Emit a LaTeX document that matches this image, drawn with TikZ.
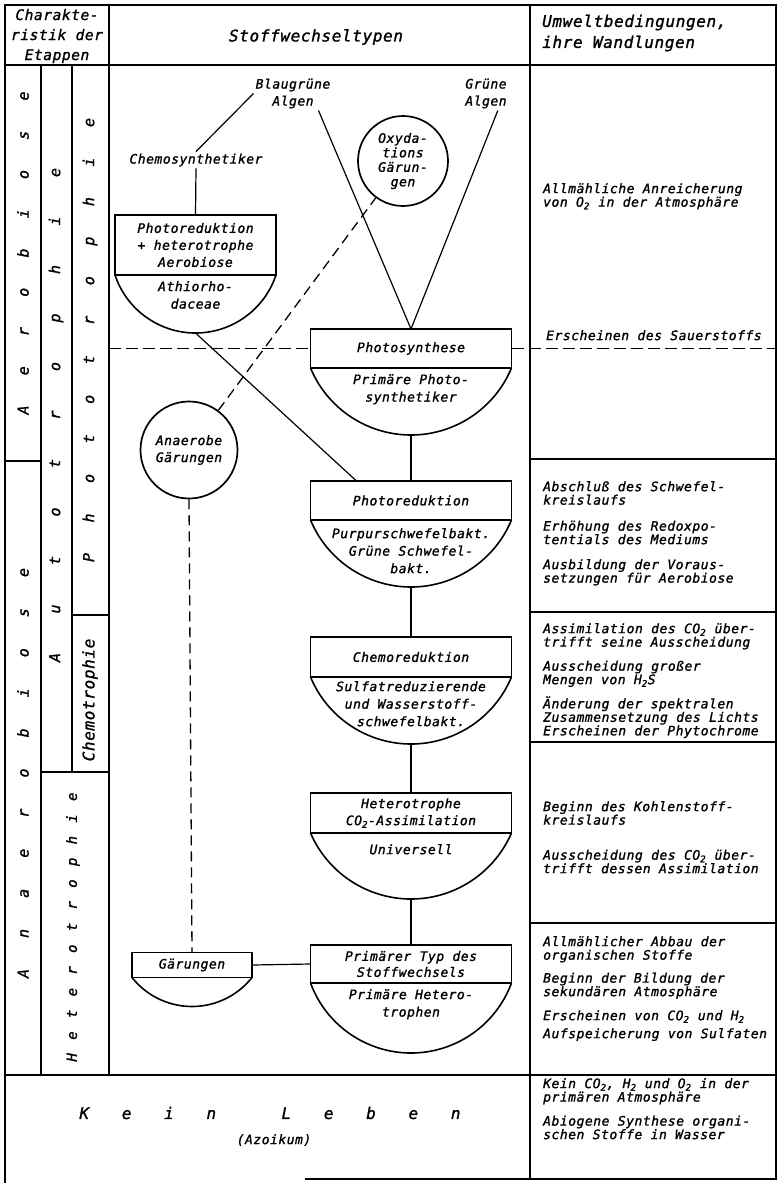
\documentclass[tikz,border=0pt]{standalone}
\usepackage{fontspec}
\setmainfont{DejaVu Sans Mono}[LetterSpace=4,ItalicFeatures={FakeBold=1.3}]
\usetikzlibrary{positioning}
\tikzset{
  tablerule/.style={line width=1.5pt},
  link/.style={line width=1.2pt},
  dashlink/.style={line width=1.3pt,dash pattern=on 10pt off 6pt},
  typebox/.style={rectangle,draw,line width=1.9pt,fill=white,outer sep=0pt,
    minimum width=201pt,minimum height=39pt,inner sep=1pt,align=center,
    font=\fontsize{13}{17}\selectfont\itshape},
  bowltext/.style={align=center,inner sep=0pt,
    font=\fontsize{13}{17.5}\selectfont\itshape},
  bowlline/.style={line width=1.6pt},
  roundnode/.style={circle,draw,line width=1.7pt,fill=white,inner sep=0pt,
    align=center,font=\fontsize{13}{15}\selectfont\itshape},
  freetext/.style={align=center,inner sep=2pt,
    font=\fontsize{13}{17}\selectfont\itshape},
  envtext/.style={anchor=north west,align=left,inner sep=0pt,
    font=\fontsize{13}{13.5}\selectfont\itshape},
  headtext/.style={align=center,inner sep=0pt,
    font=\fontsize{16}{21}\selectfont\itshape},
  phaselbl/.style={rotate=90,inner sep=0pt,
    font=\fontsize{15}{15}\selectfont\itshape}
}
% arc under a type box: node, half width, depth
\newcommand\bowlarc[3]{%
  \pgfmathsetmacro\bowlrad{(#2*#2+#3*#3)/(2*#3)}%
  \pgfmathsetmacro\bowlang{asin((\bowlrad-#3)/\bowlrad)}%
  \draw[bowlline] (#1.south west)
    arc[start angle=180+\bowlang, end angle=360-\bowlang, radius=\bowlrad pt];
  \coordinate (#1-bot) at ([yshift=-#3pt]#1.south);
}

\begin{document}
\begin{tikzpicture}[x=1pt,y=-1pt]
  \useasboundingbox (0,0) rectangle (777,1183);

  % table
  \draw[tablerule] (305,1179) -- (776,1179) -- (776,5) -- (5,5) -- (5,1183);
  \draw[tablerule] (5,65) -- (776,65);
  \draw[tablerule] (5,1075) -- (776,1075);
  \draw[tablerule] (109,5) -- (109,1075);
  \draw[tablerule] (530,5) -- (530,1179);
  \draw[tablerule] (41,65) -- (41,1075);
  \draw[tablerule] (72,65) -- (72,772);
  \draw[tablerule] (5,461) -- (41,461);
  \draw[tablerule] (72,615) -- (109,615);
  \draw[tablerule] (41,772) -- (109,772);
  \draw[tablerule] (530,459) -- (776,459);
  \draw[tablerule] (530,612) -- (776,612);
  \draw[tablerule] (530,742) -- (776,742);
  \draw[tablerule] (530,923) -- (776,923);

  % headers
  \node[headtext,font=\fontsize{14.5}{20}\selectfont\itshape] (headetap) at (57,36)
    {Charakte-\\ristik der\\Etappen};
  \node[headtext] (headtyp) at (316,37) {Stoffwechseltypen};
  \node[headtext,anchor=west,align=left] (headenv) at (542,33)
    {Umweltbedingungen,\\ ihre Wandlungen};

  % stages
  \node[phaselbl] (aerob) at (23,253) {\makebox[323pt][s]{A e r o b i o s e}};
  \node[phaselbl] (anaerob) at (23,773) {\makebox[410pt][s]{A n a e r o b i o s e}};
  \node[phaselbl] (autotr) at (56,415) {\makebox[494pt][s]{A u t o t r o p h i e}};
  \node[phaselbl] (phototr) at (90,340) {\makebox[444pt][s]{P h o t o t r o p h i e}};
  \node[phaselbl,font=\fontsize{16}{16}\selectfont\itshape] (chemotr) at (90,700) {Chemotrophie};
  \node[phaselbl,font=\fontsize{14}{14}\selectfont\itshape] (heterotr) at (73,927)
    {\makebox[269pt][s]{H e t e r o t r o p h i e}};
  \node[phaselbl,rotate=-90,font=\fontsize{16}{16}\selectfont\itshape] (keinleben) at (270,1113)
    {\makebox[381pt][s]{K e i n {} L e b e n}};
  \node[freetext] (azoikum) at (274,1140) {(Azoikum)};

  % metabolism types
  \node[freetext] (blau) at (293,93.5) {Blaugrüne\\Algen};
  \node[freetext] (gruen) at (486,93.5) {Grüne\\Algen};
  \node[freetext] (chemosyn) at (196,160) {Chemosynthetiker};
  \node[roundnode,minimum size=90pt,font=\fontsize{13}{14.5}\selectfont\itshape] (oxyd) at (403,161)
    {Oxyda-\\tions\\Gärun-\\gen};
  \node[roundnode,minimum size=97pt,font=\fontsize{13}{17}\selectfont\itshape] (anaer) at (189,450)
    {Anaerobe\\Gärungen};

  \node[typebox,minimum width=161pt,minimum height=60pt] (photoaer) at (195.5,245)
    {Photoreduktion\\+ heterotrophe\\Aerobiose};
  \node[bowltext,below=6pt of photoaer] (photoaerb) {Athiorho-\\daceae};

  \node[typebox] (photosyn) at (411,348.5) {Photosynthese};
  \node[bowltext,below=6pt of photosyn] (photosynb) {Primäre Photo-\\synthetiker};

  \node[typebox] (photored) at (411,500.5) {Photoreduktion};
  \node[bowltext,below=8pt of photored] (photoredb)
    {Purpurschwefelbakt.\\Grüne Schwefel-\\bakt.};

  \node[typebox,minimum height=40pt] (chemored) at (411,657) {Chemoreduktion};
  \node[bowltext,below=4pt of chemored] (chemoredb)
    {Sulfatreduzierende\\und Wasserstoff-\\schwefelbakt.};

  \node[typebox,minimum height=40pt] (hetero) at (411,813)
    {Heterotrophe\\CO\textsubscript{2}-Assimilation};
  \node[bowltext,below=11pt of hetero] (heterob) {Universell};

  \node[typebox,minimum height=38pt,font=\fontsize{13}{16}\selectfont\itshape] (primtyp) at (411,964)
    {Primärer Typ des\\Stoffwechsels};
  \node[bowltext,below=6pt of primtyp] (primtypb) {Primäre Hetero-\\trophen};

  \node[typebox,minimum width=120pt,minimum height=25pt] (gaer) at (192,965) {Gärungen};

  \bowlarc{photoaer}{80.5}{58}
  \bowlarc{photosyn}{100.5}{67}
  \bowlarc{photored}{100.5}{67}
  \bowlarc{chemored}{100.5}{67}
  \bowlarc{hetero}{100.5}{66}
  \bowlarc{primtyp}{100.5}{70}
  \bowlarc{gaer}{60}{29}

  % connections
  \draw[link] (blau.west) -- (chemosyn.north);
  \draw[link] (chemosyn.south) -- (photoaer.north);
  \draw[link] ([xshift=-14pt]blau.south east) -- (photosyn.north);
  \draw[link] ([xshift=-11pt]gruen.south east) -- (photosyn.north);
  \draw[link] (photoaer-bot) -- ([xshift=46pt]photored.north west);
  \draw[link] (photosyn-bot) -- (photored.north);
  \draw[link] (photored-bot) -- (chemored.north);
  \draw[link] (chemored-bot) -- (hetero.north);
  \draw[link] (hetero-bot) -- (primtyp.north);
  \draw[link] (gaer.east) -- (primtyp.west);
  \draw[dashlink] (anaer) -- (oxyd);
  \draw[dashlink] (anaer.south) -- (gaer.north);
  \draw[dashlink,dash pattern=on 12pt off 5pt] (109,348.5) -- (photosyn.west);
  \draw[dashlink,dash pattern=on 12pt off 5pt] (photosyn.east) -- (776,348.5);

  % environment
  \node[envtext] (env1) at (543,183)
    {Allmähliche Anreicherung\\von O\textsubscript{2} in der Atmosphäre};
  \node[envtext] (env2) at (546,330) {Erscheinen des Sauerstoffs};
  \node[envtext] (env3) at (543,481)
    {Abschluß des Schwefel-\\kreislaufs\\[12.5pt]Erhöhung des Redoxpo-\\tentials des Mediums\\[11.5pt]Ausbildung der Voraus-\\setzungen für Aerobiose};
  \node[envtext] (env4) at (543,623)
    {Assimilation des CO\textsubscript{2} über-\\trifft seine Ausscheidung\\[10.5pt]Ausscheidung großer\\Mengen von H\textsubscript{2}S\\[8.5pt]Änderung der spektralen\\Zusammensetzung des Lichts\\Erscheinen der Phytochrome};
  \node[envtext] (env5) at (543,801)
    {Beginn des Kohlenstoff-\\kreislaufs\\[21.5pt]Ausscheidung des CO\textsubscript{2} über-\\trifft dessen Assimilation};
  \node[envtext] (env6) at (543,936)
    {Allmählicher Abbau der\\organischen Stoffe\\[9.5pt]Beginn der Bildung der\\sekundären Atmosphäre\\[10.5pt]Erscheinen von CO\textsubscript{2} und H\textsubscript{2}\\[4.5pt]Aufspeicherung von Sulfaten};
  \node[envtext] (env7) at (543,1078)
    {Kein CO\textsubscript{2}, H\textsubscript{2} und O\textsubscript{2} in der\\primären Atmosphäre\\[10.5pt]Abiogene Synthese organi-\\schen Stoffe in Wasser};
\end{tikzpicture}
\end{document}
